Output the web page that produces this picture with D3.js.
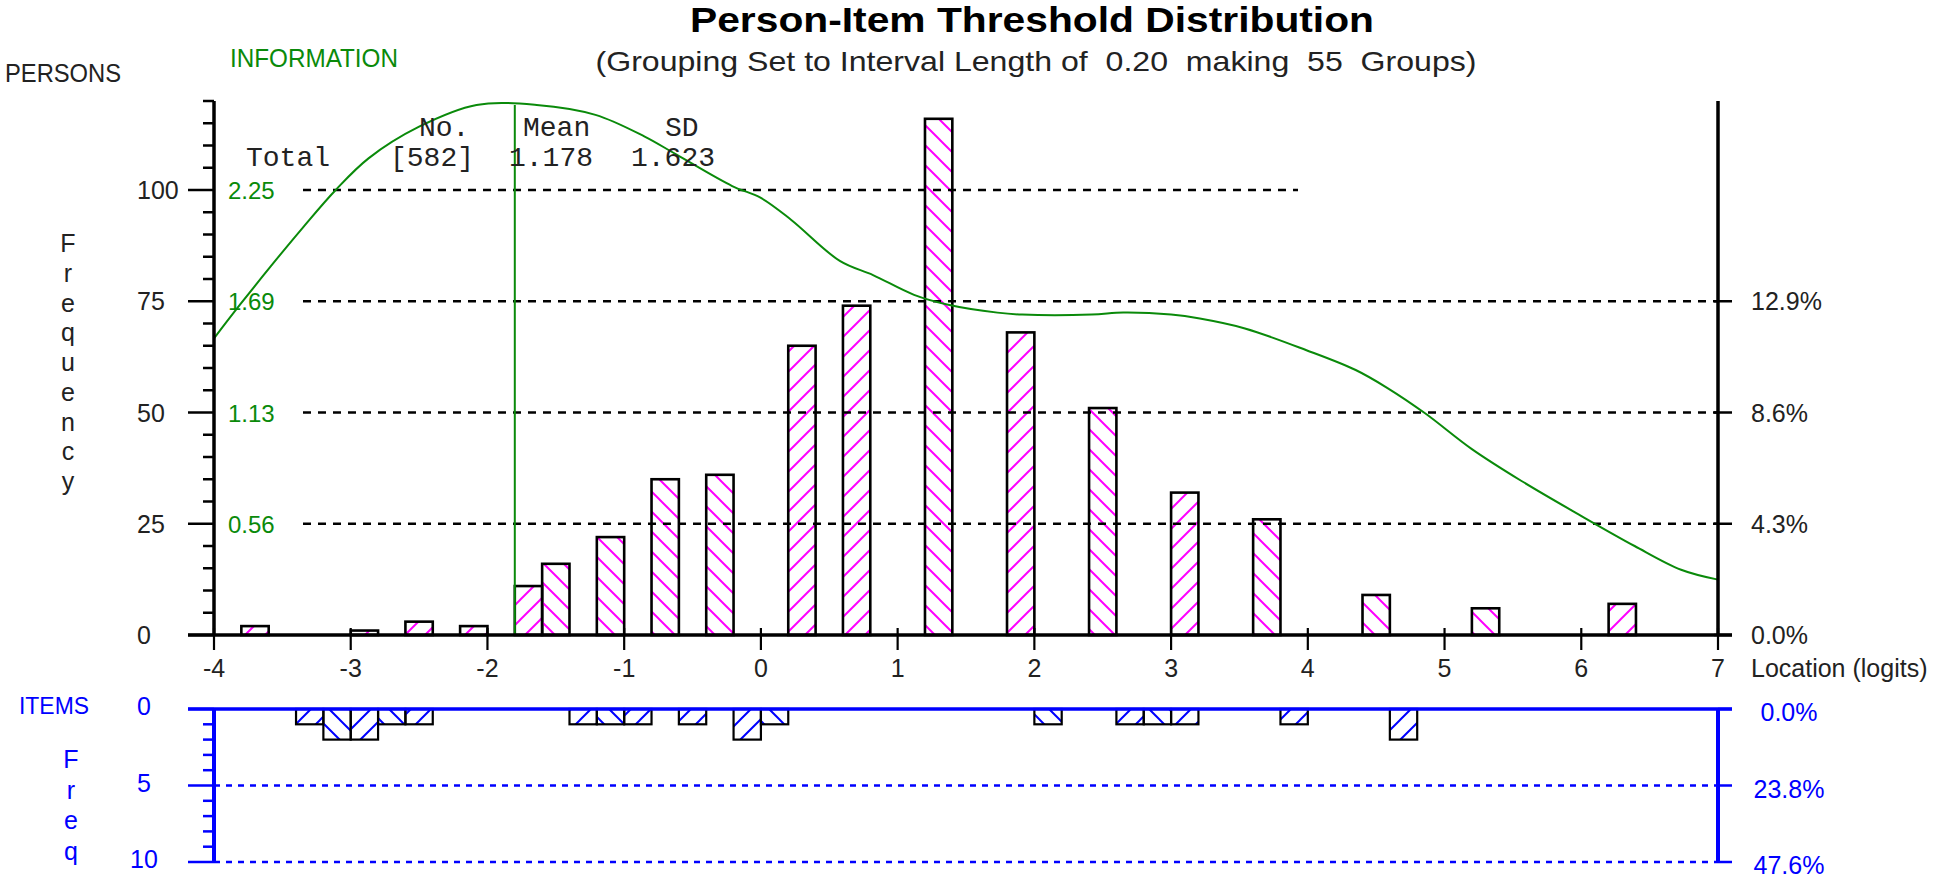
<!DOCTYPE html>
<html><head><meta charset="utf-8">
<script src="https://cdn.jsdelivr.net/npm/d3@7"></script>
<style>html,body{margin:0;padding:0;background:#fff;} svg{display:block;}</style>
</head><body>
<svg id="chart" width="1946" height="878"></svg>
<script>
// ---------- DATA ----------
const intervalLength = 0.2;
const minLocation = -4;
const maxLocation = 7;
const personLocations = [-3.7,-2.9,-2.5,-2.1,-1.7,-1.5,-1.1,-0.7,-0.3,0.3,0.7,1.3,1.9,2.5,3.1,3.7,4.5,5.3,6.3];
const personCounts    = [2,1,3,2,11,16,22,35,36,65,74,116,68,51,32,26,9,6,7];
const itemLocations = [-3.3,-3.1,-2.9,-2.7,-2.5,-1.3,-1.1,-0.9,-0.5,-0.1,0.1,2.1,2.7,2.9,3.1,3.9,4.7];
const itemCounts    = [1,2,2,1,1,1,1,1,1,2,1,1,1,1,1,1,2];
const infoLocations = [-4.0,-3.81,-3.59,-3.35,-3.11,-2.87,-2.5,-2.08,-1.64,-1.21,-0.85,-0.62,-0.21,0.0,0.22,0.58,0.82,1.12,1.37,1.73,1.91,2.42,2.65,3.0,3.21,3.54,3.99,4.35,4.58,4.86,5.2,5.56,5.98,6.39,6.73,7.0];
const infoValues    = [1.50,1.67,1.86,2.06,2.25,2.41,2.57,2.68,2.68,2.63,2.52,2.43,2.27,2.21,2.10,1.89,1.82,1.72,1.67,1.63,1.62,1.62,1.63,1.62,1.60,1.55,1.44,1.34,1.25,1.12,0.94,0.78,0.61,0.45,0.33,0.28];
const infoMarker = -1.8;
const xTicks = [-4,-3,-2,-1,0,1,2,3,4,5,6,7];
const personTicks = [0,25,50,75,100];
const personPctLabels = ["0.0%","4.3%","8.6%","12.9%"];
const infoTickLabels = ["0.56","1.13","1.69","2.25"];
const itemTicks = [0,5,10];
const itemPctLabels = ["0.0%","23.8%","47.6%"];
const summaryHeader = ["No.","Mean","SD"];
const summaryRow = ["Total","[582]","1.178","1.623"];
const titleText = "Person-Item Threshold Distribution";
const subtitleText = "(Grouping Set to Interval Length of  0.20  making  55  Groups)";

// ---------- SCALES ----------
const svg = d3.select("#chart");
const x = d3.scaleLinear().domain([minLocation, maxLocation]).range([214, 1718]);
const y = d3.scaleLinear().domain([0, 120]).range([635, 101]);
const infoPerFreq = 2.25 / 100;
const yInfo = d3.scaleLinear().domain([0, 120 * infoPerFreq]).range([635, 101]);
const yItem = d3.scaleLinear().domain([0, 10]).range([709, 862]);
const FONT = "Liberation Sans, Arial, sans-serif";
const MONO = "Liberation Mono, Courier New, monospace";
const MAG = "#ff00ff", BLUE = "#0000ff", GREEN = "#0a8a0a";

// ---------- PATTERNS ----------
const defs = svg.append("defs");
function hatch(id, color, forward) {
  const p = defs.append("pattern").attr("id", id).attr("patternUnits", "userSpaceOnUse")
    .attr("width", 20).attr("height", 20);
  p.append("path")
    .attr("d", forward ? "M-5,5 L5,-5 M0,20 L20,0 M15,25 L25,15" : "M-5,15 L5,25 M0,0 L20,20 M15,-5 L25,5")
    .attr("stroke", color).attr("stroke-width", 2).attr("fill", "none");
}
hatch("magF", MAG, true); hatch("magB", MAG, false);
hatch("bluF", BLUE, true); hatch("bluB", BLUE, false);
const groupIndex = loc => Math.round((loc - intervalLength / 2 - minLocation) / intervalLength);

// ---------- PERSON BARS ----------
svg.append("g").selectAll("rect").data(personLocations).join("rect")
  .attr("x", d => x(d - intervalLength / 2))
  .attr("width", d => x(d + intervalLength / 2) - x(d - intervalLength / 2))
  .attr("y", (d, i) => y(personCounts[i]))
  .attr("height", (d, i) => y(0) - y(personCounts[i]))
  .attr("fill", d => groupIndex(d) % 2 ? "url(#magF)" : "url(#magB)")
  .attr("stroke", "#000").attr("stroke-width", 2.6);

// ---------- GRIDLINES ----------
svg.append("g").selectAll("line").data(personTicks.slice(1)).join("line")
  .attr("x1", 303).attr("x2", d => d === 100 ? 1298 : x(maxLocation))
  .attr("y1", d => y(d)).attr("y2", d => y(d))
  .attr("stroke", "#000").attr("stroke-width", 2.4).attr("stroke-dasharray", "8,7");

// ---------- INFORMATION CURVE ----------
const infoLine = d3.line().x(d => x(d[0])).y(d => yInfo(d[1])).curve(d3.curveCatmullRom.alpha(0.5));
svg.append("path").datum(infoLocations.map((l, i) => [l, infoValues[i]]))
  .attr("d", infoLine).attr("fill", "none").attr("stroke", GREEN).attr("stroke-width", 2);
svg.append("line").attr("x1", x(infoMarker)).attr("x2", x(infoMarker))
  .attr("y1", yInfo(d3.max(infoValues))).attr("y2", y(0))
  .attr("stroke", GREEN).attr("stroke-width", 2);

// ---------- TOP AXES ----------
const ax = svg.append("g").attr("stroke", "#000");
ax.append("line").attr("x1", x(minLocation)).attr("x2", x(minLocation)).attr("y1", y(120)).attr("y2", y(0)).attr("stroke-width", 3.5);
ax.append("line").attr("x1", x(maxLocation)).attr("x2", x(maxLocation)).attr("y1", y(120)).attr("y2", y(0)).attr("stroke-width", 3.5);
ax.append("line").attr("x1", x(minLocation) - 26).attr("x2", x(maxLocation) + 14).attr("y1", y(0)).attr("y2", y(0)).attr("stroke-width", 3.5);
ax.selectAll(".minor").data(d3.range(5, 121, 5).filter(v => v % 25)).join("line")
  .attr("x1", x(minLocation) - 11).attr("x2", x(minLocation)).attr("y1", d => y(d)).attr("y2", d => y(d)).attr("stroke-width", 2.5);
ax.selectAll(".major").data(personTicks).join("line")
  .attr("x1", x(minLocation) - 26).attr("x2", x(minLocation)).attr("y1", d => y(d)).attr("y2", d => y(d)).attr("stroke-width", 2.5);
ax.selectAll(".rt").data(personTicks.slice(0, 4)).join("line")
  .attr("x1", x(maxLocation) - 4).attr("x2", x(maxLocation) + 14).attr("y1", d => y(d)).attr("y2", d => y(d)).attr("stroke-width", 2.5);
ax.selectAll(".xt").data(xTicks).join("line")
  .attr("x1", d => x(d)).attr("x2", d => x(d)).attr("y1", y(0) - 7).attr("y2", y(0) + 15).attr("stroke-width", 2.2);

const txt = svg.append("g").attr("font-family", FONT);
txt.selectAll(".yl").data(personTicks).join("text")
  .attr("x", 137).attr("y", d => y(d) + 9).attr("font-size", 25).attr("fill", "#222").text(d => d);
txt.selectAll(".il").data(infoTickLabels).join("text")
  .attr("x", 228).attr("y", (d, i) => y(personTicks[i + 1]) + 9).attr("font-size", 24).attr("fill", GREEN).text(d => d);
txt.selectAll(".pl").data(personPctLabels).join("text")
  .attr("x", 1751).attr("y", (d, i) => y(personTicks[i]) + 9).attr("font-size", 25).attr("fill", "#222").text(d => d);
txt.selectAll(".xl").data(xTicks).join("text")
  .attr("x", d => x(d)).attr("y", 677).attr("text-anchor", "middle").attr("font-size", 25).attr("fill", "#222").text(d => d);
txt.append("text").attr("x", 1751).attr("y", 677).attr("font-size", 25).attr("fill", "#222").text("Location (logits)");
txt.selectAll(".fy").data("Frequency".split("")).join("text")
  .attr("x", 68).attr("y", (d, i) => 252 + i * 29.75).attr("text-anchor", "middle").attr("font-size", 25).attr("fill", "#222").text(d => d);
txt.append("text").attr("x", 5).attr("y", 82).attr("font-size", 25).attr("fill", "#222").attr("textLength", 116).attr("lengthAdjust", "spacingAndGlyphs").text("PERSONS");
txt.append("text").attr("x", 230).attr("y", 67).attr("font-size", 25).attr("fill", GREEN).attr("textLength", 168).attr("lengthAdjust", "spacingAndGlyphs").text("INFORMATION");
txt.append("text").attr("x", 1032).attr("y", 32).attr("text-anchor", "middle").attr("font-size", 35).attr("font-weight", "bold").attr("fill", "#000")
  .attr("textLength", 684).attr("lengthAdjust", "spacingAndGlyphs").text(titleText);
txt.append("text").attr("x", 1036).attr("y", 71).attr("text-anchor", "middle").attr("font-size", 28).attr("fill", "#222")
  .style("white-space", "pre").attr("textLength", 881).attr("lengthAdjust", "spacingAndGlyphs").text(subtitleText);

// summary box (monospace)
const mono = svg.append("g").attr("font-family", MONO).attr("font-size", 28).attr("fill", "#222");
const hdrX = [419, 523, 665];
mono.selectAll(".h").data(summaryHeader).join("text").attr("x", (d, i) => hdrX[i]).attr("y", 136).text(d => d);
const rowX = [246, 390, 509, 631];
mono.selectAll(".r").data(summaryRow).join("text").attr("x", (d, i) => rowX[i]).attr("y", 166).text(d => d);

// ---------- ITEMS PANEL ----------
svg.append("g").selectAll("rect").data(itemLocations).join("rect")
  .attr("x", d => x(d - intervalLength / 2))
  .attr("width", d => x(d + intervalLength / 2) - x(d - intervalLength / 2))
  .attr("y", yItem(0))
  .attr("height", (d, i) => yItem(itemCounts[i]) - yItem(0))
  .attr("fill", d => groupIndex(d) % 2 ? "url(#bluF)" : "url(#bluB)")
  .attr("stroke", "#000").attr("stroke-width", 2.2);

const ib = svg.append("g").attr("stroke", BLUE);
ib.selectAll(".d").data(itemTicks.slice(1)).join("line")
  .attr("x1", x(minLocation)).attr("x2", x(maxLocation)).attr("y1", d => yItem(d)).attr("y2", d => yItem(d))
  .attr("stroke-width", 2.4).attr("stroke-dasharray", "6,6");
ib.append("line").attr("x1", x(minLocation) - 26).attr("x2", x(maxLocation) + 14).attr("y1", yItem(0)).attr("y2", yItem(0)).attr("stroke-width", 3.5);
ib.append("line").attr("x1", x(minLocation)).attr("x2", x(minLocation)).attr("y1", yItem(0)).attr("y2", yItem(10)).attr("stroke-width", 4);
ib.append("line").attr("x1", x(maxLocation)).attr("x2", x(maxLocation)).attr("y1", yItem(0)).attr("y2", yItem(10)).attr("stroke-width", 4);
ib.selectAll(".mi").data(d3.range(1, 10).filter(v => v % 5)).join("line")
  .attr("x1", x(minLocation) - 11).attr("x2", x(minLocation)).attr("y1", d => yItem(d)).attr("y2", d => yItem(d)).attr("stroke-width", 2.5);
ib.selectAll(".ma").data(itemTicks).join("line")
  .attr("x1", x(minLocation) - 26).attr("x2", x(minLocation)).attr("y1", d => yItem(d)).attr("y2", d => yItem(d)).attr("stroke-width", 2.5);
ib.selectAll(".rt").data(itemTicks).join("line")
  .attr("x1", x(maxLocation)).attr("x2", x(maxLocation) + 14).attr("y1", d => yItem(d)).attr("y2", d => yItem(d)).attr("stroke-width", 2.5);

const it = svg.append("g").attr("font-family", FONT).attr("fill", BLUE);
it.selectAll(".l").data(itemTicks).join("text").attr("x", 144).attr("y", d => yItem(d) + 6).attr("text-anchor", "middle").attr("font-size", 25).text(d => d);
it.selectAll(".r").data(itemPctLabels).join("text").attr("x", 1789).attr("y", (d, i) => yItem(itemTicks[i]) + 12).attr("text-anchor", "middle").attr("font-size", 25).text(d => d);
it.append("text").attr("x", 19).attr("y", 714).attr("font-size", 23).attr("textLength", 70).attr("lengthAdjust", "spacingAndGlyphs").text("ITEMS");
it.selectAll(".f").data("Freq".split("")).join("text")
  .attr("x", 71).attr("y", (d, i) => 768 + i * 30.7).attr("text-anchor", "middle").attr("font-size", 25).text(d => d);
</script>
</body></html>
